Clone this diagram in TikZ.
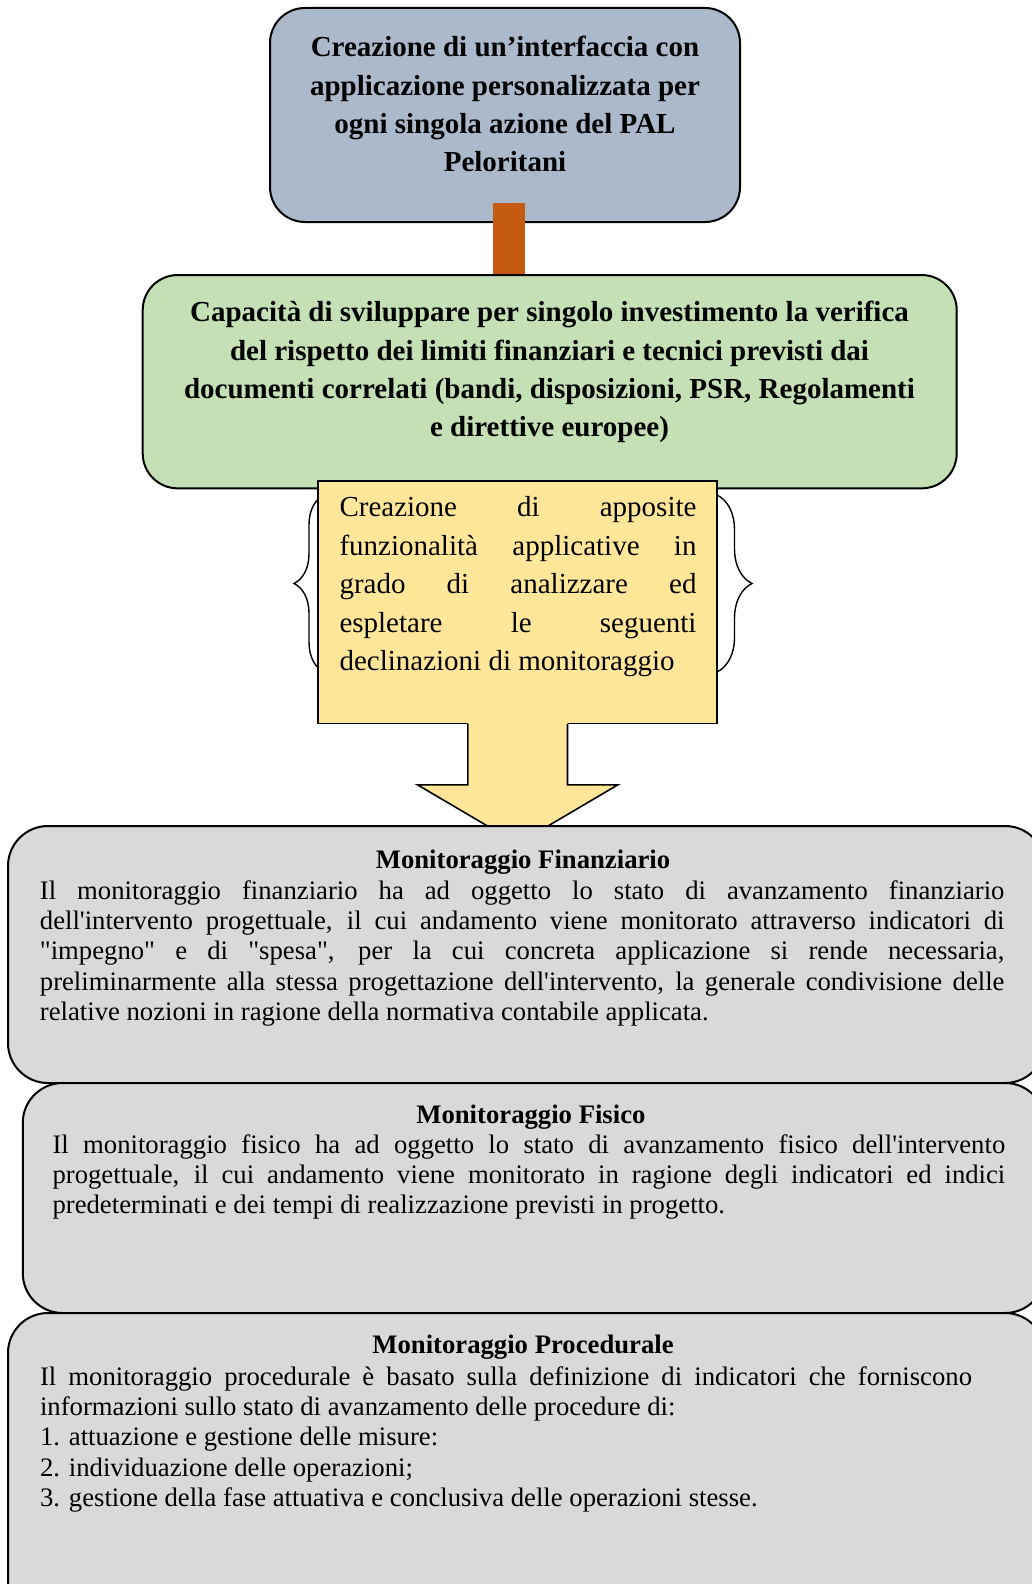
\documentclass[tikz,border=0pt]{standalone}
\usepackage{fontspec}
\setmainfont{Liberation Serif}
\usepackage{xcolor}
\usepackage{tikz}
\usetikzlibrary{decorations.pathreplacing}
\definecolor{palblue}{HTML}{ACB9CA}
\definecolor{palgreen}{HTML}{C5E0B4}
\definecolor{palyellow}{HTML}{FFE699}
\definecolor{palorange}{HTML}{C55A11}
\definecolor{palgrey}{HTML}{D9D9D9}
\tolerance=9999 \hbadness=10000 \hyphenpenalty=10000
\newcommand{\headfont}{\fontsize{29}{38.3}\selectfont\bfseries}
\newcommand{\callfont}{\fontsize{29}{38.5}\selectfont}
\newcommand{\bodyfont}{\fontsize{26.7}{30.3}\selectfont}

\begin{document}
\begin{tikzpicture}[x=1pt, y=-1pt,
  roundbox/.style={draw, line width=2pt, rounded corners=35pt, inner sep=0pt},
  greybox/.style={draw, line width=2pt, rounded corners=40pt, fill=palgrey, inner sep=0pt, minimum width=1037},
  headtxt/.style={font=\headfont, align=center, inner sep=0pt},
  titletxt/.style={font=\bodyfont\bfseries, inner sep=0pt, anchor=base},
  bodytxt/.style={font=\bodyfont, align=justify, inner sep=0pt, anchor=north west},
  curly/.style={decorate, line width=1.4pt}]
  \useasboundingbox (0,0) rectangle (1032,1584);
  \clip (0,0) rectangle (1032,1584);

  % top: interface
  \node[roundbox, fill=palblue, minimum width=470, minimum height=214] (intf) at (505,115) {};
  \node[headtxt, anchor=north] (intftxt) at (505,29.9)
       {\strut Creazione di un’interfaccia con\\applicazione personalizzata per\\ogni singola azione del PAL\\Peloritani};

  % capability box
  \node[roundbox, fill=palgreen, minimum width=814, minimum height=213.3] (cap) at (549.7,381.7) {};
  \node[headtxt, anchor=north] (captxt) at (549.5,294.9)
       {\strut Capacità di sviluppare per singolo investimento la verifica\\del rispetto dei limiti finanziari e tecnici previsti dai\\documenti correlati (bandi, disposizioni, PSR, Regolamenti\\e direttive europee)};
  \draw[palorange, line width=32pt] ([xshift=4pt,yshift=20pt]intf.south) -- ([xshift=4pt]intf.south |- cap.north);

  % braces round the callout
  \draw[curly, decoration={brace, amplitude=30pt}] (324,672) -- (324,495);
  \draw[curly, decoration={brace, amplitude=35pt}] (717,495) -- (717,672);

  % callout with down arrow
  \node[draw, line width=1.6pt, fill=palyellow, inner sep=0pt, minimum width=399, minimum height=242.6] (func) at (517.7,602) {};
  \fill[palyellow] ([xshift=-49.8pt,yshift=1.5pt]func.south) -- ++(0,62.2) -- ++(-50.4,0) -- ++(100.2,59)
       -- ++(100.2,-59) -- ++(-50.4,0) -- ++(0,-62.2) -- cycle;
  \draw[line width=1.6pt, miter limit=20] ([xshift=-49.8pt]func.south) -- ++(0,60.7) -- ++(-50.4,0) -- ++(100.2,59)
       -- ++(100.2,-59) -- ++(-50.4,0) -- ++(0,-60.7);
  \node[font=\callfont, text width=357, align=justify, inner sep=0pt, anchor=north west] (functxt) at (339.3,489.75)
       {\strut Creazione di apposite\linebreak funzionalità applicative in\linebreak grado di analizzare ed\linebreak
        espletare le seguenti\linebreak declinazioni di monitoraggio};

  % monitoring boxes
  \node[greybox, minimum height=257] (fin) at (526.5,954.5) {};
  \node[titletxt] (fintitle) at ([xshift=-3.5pt,yshift=-43.3pt]fin.north) {Monitoraggio Finanziario};
  \node[bodytxt, text width=964.5] (finbody) at ([xshift=32.7pt,yshift=-52.8pt]fin.north west)
       {\strut Il monitoraggio finanziario ha ad oggetto lo stato di avanzamento finanziario\linebreak
        dell\textquotesingle intervento progettuale, il cui andamento viene monitorato attraverso indicatori di\linebreak
        \textquotedbl impegno\textquotedbl{} e di \textquotedbl spesa\textquotedbl, per la cui concreta applicazione si rende necessaria,\linebreak
        preliminarmente alla stessa progettazione dell\textquotesingle intervento, la generale condivisione delle\linebreak
        relative nozioni in ragione della normativa contabile applicata.};

  \node[greybox, minimum width=1022.3, minimum height=230] (fis) at (533.9,1198) {};
  \node[titletxt] (fistitle) at ([xshift=-3pt,yshift=-41pt]fis.north) {Monitoraggio Fisico};
  \node[bodytxt, text width=952.7] (fisbody) at ([xshift=30.6pt,yshift=-49.8pt]fis.north west)
       {\strut Il monitoraggio fisico ha ad oggetto lo stato di avanzamento fisico dell\textquotesingle intervento\linebreak
        progettuale, il cui andamento viene monitorato in ragione degli indicatori ed indici\linebreak
        predeterminati e dei tempi di realizzazione previsti in progetto.};

  \node[greybox, minimum height=327] (proc) at (526.5,1476.5) {};
  \node[titletxt] (proctitle) at ([xshift=-3.5pt,yshift=-41.3pt]proc.north) {Monitoraggio Procedurale};
  \node[bodytxt, text width=932] (procbody) at ([xshift=32.8pt,yshift=-51.8pt]proc.north west)
       {\strut Il monitoraggio procedurale è basato sulla definizione di indicatori che forniscono\linebreak
        informazioni sullo stato di avanzamento delle procedure di:\newline
        1. attuazione e gestione delle misure:\newline
        2. individuazione delle operazioni;\newline
        3. gestione della fase attuativa e conclusiva delle operazioni stesse.};
\end{tikzpicture}
\end{document}
